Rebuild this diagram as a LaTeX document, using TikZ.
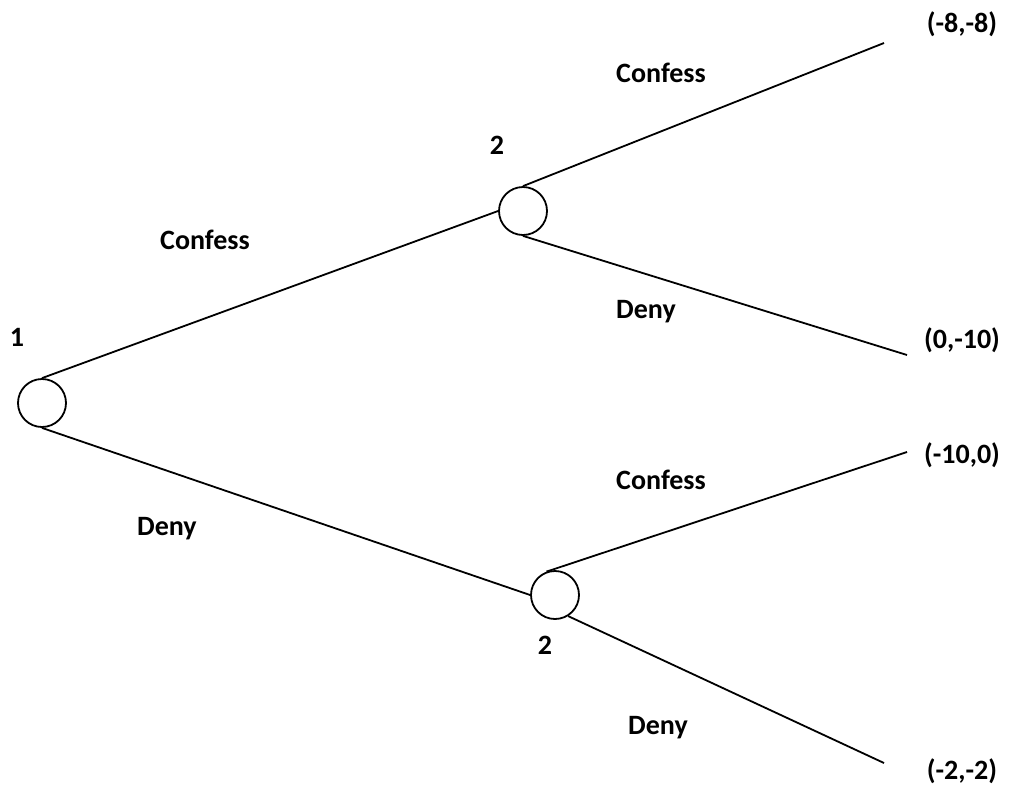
\documentclass[tikz,border=0pt]{standalone}
\usepackage{fontspec}
\setmainfont{Carlito}
\usepackage{tikz}
\usetikzlibrary{calc}

\begin{document}
\begin{tikzpicture}[x=1pt,y=-1pt,line width=1.8pt,
   every node/.style={font=\fontsize{28}{32}\selectfont\bfseries},
   decision/.style={draw,circle,minimum size=48pt,inner sep=0pt},
   lbl/.style={anchor=base}]
\useasboundingbox (0,0) rectangle (1009,785);
% decision nodes
\node[decision] (root) at (42,403) {};
\node[decision] (upper) at (523,211) {};
\node[decision] (lower) at (555,595) {};
\node[lbl] (p1) at (17,346) {1};
\node[lbl] (p2a) at (497,154) {2};
\node[lbl] (p2b) at (545,654) {2};
% end points of the branches
\coordinate (cc) at (884,43);
\coordinate (cd) at (907,355);
\coordinate (dc) at (907,452);
\coordinate (dd) at (884,763);
\draw (root.north) -- (upper.west);
\draw (root.south) -- (lower.west);
\draw (upper.north) -- (cc);
\draw (upper.south) -- (cd);
\draw (lower.110) -- (dc);
\draw (lower.-58) -- (dd);
% actions
\node[lbl] (c1) at (205,249) {Confess};
\node[lbl] (d1) at (167,535) {Deny};
\node[lbl] (c2) at (661,82) {Confess};
\node[lbl] (d2) at (646,318) {Deny};
\node[lbl] (c3) at (661,489) {Confess};
\node[lbl] (d3) at (658,734) {Deny};
% payoffs
\node[lbl] (u1) at (962,32) {(-8,-8)};
\node[lbl] (u2) at (962,348) {(0,-10)};
\node[lbl] (u3) at (962,463) {(-10,0)};
\node[lbl] (u4) at (962,779) {(-2,-2)};
\end{tikzpicture}
\end{document}
